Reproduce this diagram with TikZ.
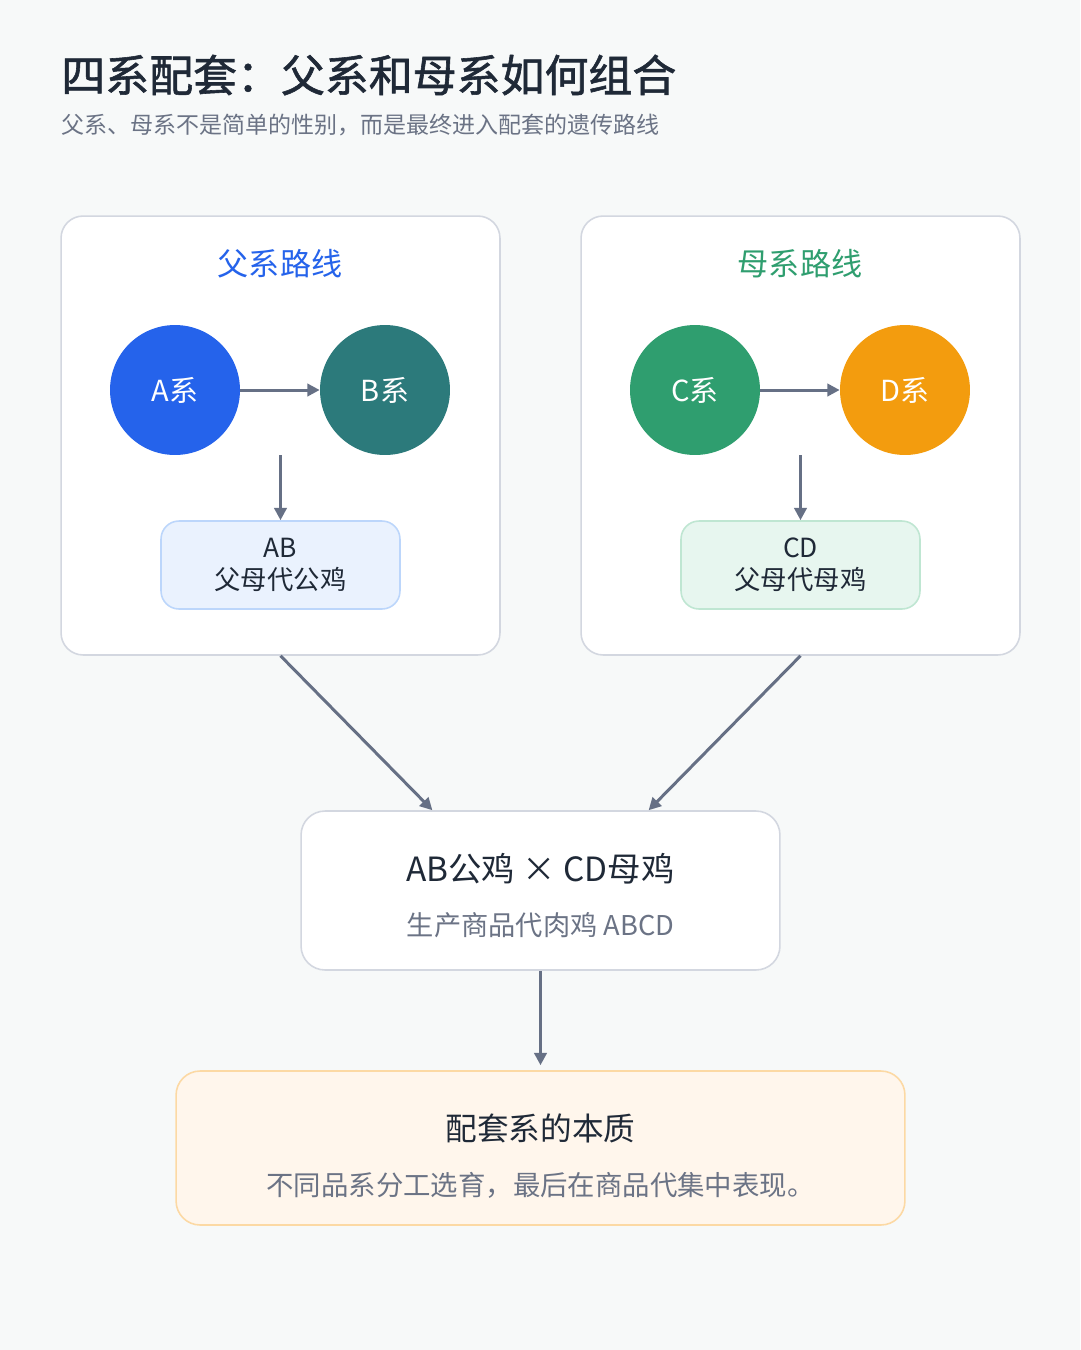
\documentclass[tikz,border=0pt]{standalone}
\usepackage{fontspec}
\setmainfont{Noto Sans CJK SC}
\newfontfamily\headfont{Noto Sans CJK SC}[FakeBold=1.3]
\usepackage{xcolor}
\definecolor{pagebg}{HTML}{F7F9F9}
\definecolor{inkdark}{HTML}{1F2937}
\definecolor{inkgray}{HTML}{6B7385}
\definecolor{edgegray}{HTML}{D3D7E0}
\definecolor{flowgray}{HTML}{667085}
\definecolor{sireblue}{HTML}{2563EB}
\definecolor{sireteal}{HTML}{2C7A7B}
\definecolor{damgreen}{HTML}{2F9E6F}
\definecolor{damorange}{HTML}{F39C0E}
\definecolor{abfill}{HTML}{EAF2FE}
\definecolor{abedge}{HTML}{BCD6FB}
\definecolor{cdfill}{HTML}{E7F6EF}
\definecolor{cdedge}{HTML}{BFE6D2}
\definecolor{notefill}{HTML}{FFF6EC}
\definecolor{noteedge}{HTML}{FCD9A4}
\usepackage{tikz}
\usetikzlibrary{arrows.meta, positioning, calc}

\tikzset{
  panel/.style={draw=edgegray, line width=0.9pt, fill=white, rounded corners=0.44cm,
    minimum width=8.78cm, minimum height=8.78cm},
  line/.style={circle, minimum size=2.6cm, inner sep=0pt, text=white,
    font=\fontsize{16.5}{18}\selectfont},
  parent/.style={rounded corners=0.36cm, line width=0.9pt, minimum width=4.78cm,
    minimum height=1.76cm, align=center, text=inkdark,
    font=\fontsize{15}{18}\selectfont},
  flow/.style={-{Triangle[length=7pt,width=7pt]}, draw=flowgray, line width=1.7pt},
}

\begin{document}
\begin{tikzpicture}[x=0.02cm, y=-0.02cm]
  \fill[pagebg] (0,0) rectangle (1080,1350);
  \useasboundingbox (0,0) rectangle (1080,1350);

  % heading
  \node[anchor=west, inner sep=0pt, text=inkdark, font=\fontsize{25}{28}\headfont]
    (title) at (61,75) {四系配套：父系和母系如何组合};
  \node[anchor=west, inner sep=0pt, text=inkgray, font=\fontsize{13.1}{16}\selectfont]
    (subtitle) at (61,125) {父系、母系不是简单的性别，而是最终进入配套的遗传路线};

  % two panels
  \node[panel] (sirepanel) at (280.5,435.5) {};
  \node[panel] (dampanel) at (800.5,435.5) {};
  \node[text=sireblue, font=\fontsize{17.7}{20}\selectfont] (siretitle) at (280,264) {父系路线};
  \node[text=damgreen, font=\fontsize{17.7}{20}\selectfont] (damtitle) at (800,264) {母系路线};

  % lines
  \node[line, fill=sireblue] (A) at (175,390) {A系};
  \node[line, fill=sireteal] (B) at (385,390) {B系};
  \node[line, fill=damgreen] (C) at (695,390) {C系};
  \node[line, fill=damorange] (D) at (905,390) {D系};

  % parent stock
  \node[parent, fill=abfill, draw=abedge] (AB) at (280.5,565) {AB\\父母代公鸡};
  \node[parent, fill=cdfill, draw=cdedge] (CD) at (800.5,565) {CD\\父母代母鸡};

  \draw[flow] (A) -- (B);
  \draw[flow] (C) -- (D);
  \draw[flow] (A.south -| AB.north) -- (AB.north);
  \draw[flow] (C.south -| CD.north) -- (CD.north);

  % cross
  \node[draw=edgegray, line width=0.9pt, fill=white, rounded corners=0.48cm,
    minimum width=9.58cm, minimum height=3.18cm] (cross) at (540.5,890.5) {};
  \node[text=inkdark, font=\fontsize{19}{22}\selectfont]
    (crosstitle) at ([yshift=0.44cm]cross.center) {AB公鸡 × CD母鸡};
  \node[text=inkgray, font=\fontsize{15.5}{18}\selectfont]
    (crosssub) at ([yshift=-0.7cm]cross.center) {生产商品代肉鸡 ABCD};

  \draw[flow] (sirepanel.south) -- ($(cross.north)!0.45!(cross.north west)$);
  \draw[flow] (dampanel.south) -- ($(cross.north)!0.45!(cross.north east)$);

  % summary
  \node[draw=noteedge, line width=0.9pt, fill=notefill, rounded corners=0.48cm,
    minimum width=14.58cm, minimum height=3.08cm] (essence) at (540.5,1148) {};
  \node[text=inkdark, font=\fontsize{18}{21}\selectfont]
    (essencetitle) at ([yshift=0.4cm]essence.center) {配套系的本质};
  \node[text=inkgray, font=\fontsize{15.6}{18}\selectfont]
    (essencesub) at ([yshift=-0.74cm]essence.center) {不同品系分工选育，最后在商品代集中表现。};

  \draw[flow] (cross.south) -- ([yshift=0.1cm]essence.north);
\end{tikzpicture}
\end{document}
